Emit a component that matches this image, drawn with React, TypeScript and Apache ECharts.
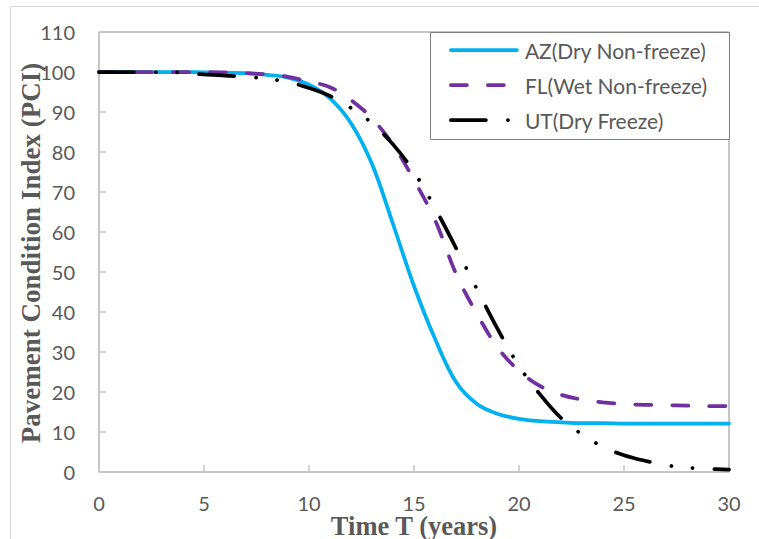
import React, { useEffect, useRef } from "react";
import * as echarts from "echarts";

// Time T (years)
const years = [
  0, 1, 2, 3, 4, 5, 6, 7, 8, 9, 10, 11, 12, 13, 14, 15, 16, 17, 18, 19, 20,
  21, 22, 23, 24, 25, 26, 27, 28, 29, 30,
];

// PCI values
const azPCI = [
  100, 100, 100, 100, 100, 99.9, 99.8, 99.7, 99.3, 98.6, 96.8, 93.4, 87.2, 77,
  62, 46.5, 33.3, 22.5, 17, 14.5, 13.3, 12.7, 12.4, 12.2, 12.2, 12.1, 12.1,
  12.1, 12.1, 12.1, 12.1,
];
const flPCI = [
  100, 100, 100, 100, 100, 100, 99.9, 99.7, 99.4, 98.8, 97.6, 96.2, 93, 88.4,
  81.8, 73, 63, 49.6, 39.5, 31, 25.3, 21.5, 19.3, 18.1, 17.4, 17, 16.8, 16.7,
  16.6, 16.5, 16.5,
];
const utPCI = [
  100, 100, 100, 100, 99.8, 99.4, 99.1, 98.8, 98.3, 97.5, 96, 94, 91, 87.2,
  81.9, 75, 66, 56, 45.7, 35.6, 26.5, 19.4, 13.5, 9.4, 6.3, 4.2, 2.8, 1.7, 1.1,
  0.8, 0.6,
];

const seriesNames = ["AZ(Dry Non-freeze)", "FL(Wet Non-freeze)", "UT(Dry Freeze)"];
const seriesColors = ["#00B0F0", "#7030A0", "#000000"];
const yTitle = "Pavement Condition Index (PCI)";
const xTitle = "Time T (years)";

export default function App() {
  const ref = useRef<HTMLDivElement>(null);

  useEffect(() => {
    if (!ref.current) return;
    const chart = echarts.init(ref.current, null, { renderer: "svg" });
    const pairs = (ys: number[]) => years.map((x, i) => [x, ys[i]]);
    const labelColor = "#595959";
    const axisGray = "#c6c6c6";

    chart.setOption({
      animation: false,
      backgroundColor: "#ffffff",
      grid: {
        left: 99,
        top: 32,
        right: 30,
        bottom: 67,
        show: true,
        borderColor: "#8c8c8c",
        borderWidth: 1,
        backgroundColor: "transparent",
      },
      xAxis: {
        type: "value",
        min: 0,
        max: 30,
        interval: 5,
        axisLine: { show: true, onZero: false, lineStyle: { color: axisGray, width: 1.5 } },
        axisTick: { show: true, inside: true, length: 7, lineStyle: { color: axisGray, width: 1.5 } },
        axisLabel: { color: labelColor, fontFamily: "Lato", fontSize: 20, margin: 21 },
        splitLine: { show: false },
      },
      yAxis: {
        type: "value",
        min: 0,
        max: 110,
        interval: 10,
        axisLine: { show: true, onZero: false, lineStyle: { color: axisGray, width: 1.5 } },
        axisTick: { show: true, inside: true, length: 7, lineStyle: { color: axisGray, width: 1.5 } },
        axisLabel: { color: labelColor, fontFamily: "Lato", fontSize: 20, margin: 24 },
        splitLine: { show: false },
      },
      legend: {
        orient: "vertical",
        left: 449,
        top: 39,
        padding: 0,
        itemWidth: 66,
        itemHeight: 14,
        itemGap: 13,
        selectedMode: false,
        textStyle: {
          color: labelColor,
          fontFamily: "Lato",
          fontSize: 21,
          lineHeight: 22,
          padding: [0, 0, 0, 3],
        },
        itemStyle: { color: "rgba(0,0,0,0)", borderWidth: 0, opacity: 0 },
        lineStyle: { width: "inherit" },
        data: seriesNames,
      },
      graphic: [
        {
          type: "rect",
          z: 0,
          silent: true,
          shape: { x: 10.5, y: 6.5, width: 780, height: 580 },
          style: { fill: "none", stroke: "#d9d9d9", lineWidth: 1 },
        },
        {
          type: "rect",
          z: 3,
          silent: true,
          shape: { x: 430.5, y: 32.5, width: 299, height: 107 },
          style: { fill: "#ffffff", stroke: "#7f7f7f", lineWidth: 1 },
        },
        {
          type: "text",
          x: 30.5,
          y: 253,
          rotation: Math.PI / 2,
          silent: true,
          style: {
            text: yTitle,
            fill: labelColor,
            fontFamily: "Liberation Serif",
            fontWeight: "bold",
            fontSize: 27,
            align: "center",
            verticalAlign: "middle",
          },
        },
        {
          type: "text",
          x: 414,
          y: 526,
          silent: true,
          style: {
            text: xTitle,
            fill: labelColor,
            fontFamily: "Liberation Serif",
            fontWeight: "bold",
            fontSize: 26.5,
            align: "center",
            verticalAlign: "middle",
          },
        },
      ],
      series: [
        {
          name: seriesNames[0],
          type: "line",
          data: pairs(azPCI),
          smooth: 0.35,
          symbol: "none",
          showSymbol: false,
          z: 2,
          lineStyle: { color: seriesColors[0], width: 3.75, type: "solid", cap: "round" },
          itemStyle: { color: seriesColors[0] },
        },
        {
          name: seriesNames[1],
          type: "line",
          data: pairs(flPCI),
          smooth: 0.35,
          symbol: "none",
          showSymbol: false,
          z: 2,
          lineStyle: { color: seriesColors[1], width: 3.75, type: [16, 21], cap: "round" },
          itemStyle: { color: seriesColors[1] },
        },
        {
          name: seriesNames[2],
          type: "line",
          data: pairs(utPCI),
          smooth: 0.35,
          symbol: "none",
          showSymbol: false,
          z: 2,
          lineStyle: {
            color: seriesColors[2],
            width: 3.75,
            type: [35, 22, 0.1, 21, 0.1, 22],
            cap: "round",
          },
          itemStyle: { color: seriesColors[2] },
        },
      ],
    });

    return () => chart.dispose();
  }, []);

  return (
    <div
      ref={ref}
      style={{ position: "absolute", left: 0, top: 0, width: 759, height: 539 }}
    />
  );
}
